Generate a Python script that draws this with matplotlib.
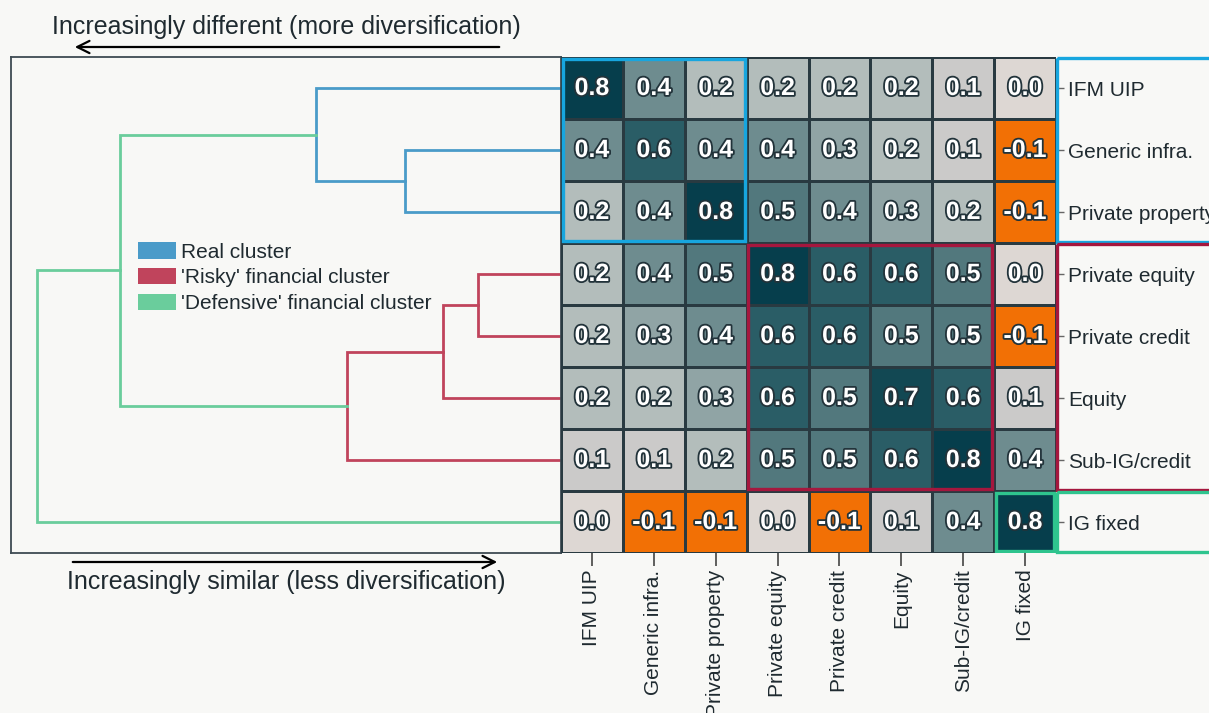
import numpy as np
import matplotlib
matplotlib.use("Agg")
import matplotlib.pyplot as plt
from matplotlib.colors import LinearSegmentedColormap, Normalize
from matplotlib.patches import Patch, Rectangle, FancyArrowPatch
import matplotlib.patheffects as pe

plt.rcParams['font.family'] = ['Liberation Sans', 'DejaVu Sans']

# --- config --- #
background_color = '#F8F8F6'
text_color = '#1F2A30'
frame_color = '#3E4B53'
real_color = '#4A9BC9'
risky_color = '#C0445C'
defensive_color = '#6ACD9C'
box_blue = '#17A6DF'
box_red = '#A5173E'
box_green = '#2FC48E'
# --- end config --- #

assets = ['IFM UIP', 'Generic infra.', 'Private property', 'Private equity',
          'Private credit', 'Equity', 'Sub-IG/credit', 'IG fixed']

corr = np.array([
    [0.8, 0.4, 0.2, 0.2, 0.2, 0.2, 0.1, 0.0],
    [0.4, 0.6, 0.4, 0.4, 0.3, 0.2, 0.1, -0.1],
    [0.2, 0.4, 0.8, 0.5, 0.4, 0.3, 0.2, -0.1],
    [0.2, 0.4, 0.5, 0.8, 0.6, 0.6, 0.5, 0.0],
    [0.2, 0.3, 0.4, 0.6, 0.6, 0.5, 0.5, -0.1],
    [0.2, 0.2, 0.3, 0.6, 0.5, 0.7, 0.6, 0.1],
    [0.1, 0.1, 0.2, 0.5, 0.5, 0.6, 0.8, 0.4],
    [0.0, -0.1, -0.1, 0.0, -0.1, 0.1, 0.4, 0.8],
])

# merges: (left node, right node, distance, colour); new nodes are numbered from 8
merge_left = [1, 0, 3, 10, 11, 9, 13]
merge_right = [2, 8, 4, 5, 6, 12, 7]
merge_dist = [0.284, 0.445, 0.151, 0.215, 0.389, 0.802, 0.953]
merge_color = [real_color, real_color, risky_color, risky_color, risky_color,
               defensive_color, defensive_color]

# colour scale, orange for negative through grey to dark teal
cmap = LinearSegmentedColormap.from_list('corr', [
    (0.0, '#F27005'),
    (0.1 / 0.9, '#DDD8D5'),
    (0.2 / 0.9, '#CBCAC9'),
    (0.3 / 0.9, '#B3BDBB'),
    (0.4 / 0.9, '#90A4A5'),
    (0.5 / 0.9, '#6E8C8F'),
    (0.6 / 0.9, '#52787D'),
    (0.7 / 0.9, '#2B5E66'),
    (0.8 / 0.9, '#124853'),
    (1.0, '#063E4C'),
])
norm = Normalize(vmin=-0.1, vmax=0.8)

W, H = 1209, 713
fig = plt.figure(figsize=(W / 100, H / 100), dpi=100, facecolor=background_color)

ax_d = fig.add_axes([11 / W, 1 - 553 / H, 550 / W, 496 / H])
ax_h = fig.add_axes([561 / W, 1 - 553 / H, 495 / W, 496 / H])
for a in (ax_d, ax_h):
    a.set_facecolor(background_color)

# --- heatmap --- #
n = len(assets)
ax_h.pcolormesh(np.arange(n + 1), np.arange(n + 1), corr, cmap=cmap, norm=norm,
                edgecolors='#293A41', linewidth=1.0)
ax_h.set_xlim(0, n)
ax_h.set_ylim(n, 0)
for i in range(n):
    for j in range(n):
        ax_h.text(j + 0.5, i + 0.5, f'{corr[i, j]:.1f}', ha='center', va='center',
                  fontsize=18, fontweight='bold', color='white',
                  path_effects=[pe.withStroke(linewidth=2.6, foreground='#22333A')])

ax_h.set_xticks(np.arange(n) + 0.5)
ax_h.set_xticklabels(assets, rotation=90, fontsize=15, color=text_color)
ax_h.yaxis.tick_right()
ax_h.set_yticks(np.arange(n) + 0.5)
ax_h.set_yticklabels(assets, fontsize=15, color=text_color)
ax_h.tick_params(axis='x', length=9, width=1.2, color='#444', pad=3)
ax_h.tick_params(axis='y', length=6, width=1, color='#666', pad=3)
for spine in ax_h.spines.values():
    spine.set_visible(False)

# cluster boxes inside the heatmap
for (x0, y0, w, h, c) in [(0, 0, 3, 3, box_blue), (3, 3, 4, 4, box_red),
                          (7, 7, 1, 1, box_green)]:
    ax_h.add_patch(Rectangle((x0 + 0.03, y0 + 0.03), w - 0.06, h - 0.06,
                             fill=False, edgecolor=c, lw=2.4, zorder=5))
# boxes around the row labels
for (y0, h, c) in [(0, 3, box_blue), (3, 4, box_red), (7, 1, box_green)]:
    ax_h.add_patch(Rectangle((n + 0.02, y0 + 0.02), 4, h - 0.04, fill=False,
                             edgecolor=c, lw=2.4, clip_on=False, zorder=5))

# --- dendrogram --- #
pos = {i: i + 0.5 for i in range(n)}
height = {i: 0.0 for i in range(n)}
for k, (l, r, d, c) in enumerate(zip(merge_left, merge_right, merge_dist, merge_color)):
    yl, yr = pos[l], pos[r]
    ax_d.plot([height[l], d, d, height[r]], [yl, yl, yr, yr], color=c, lw=2,
              solid_joinstyle='miter')
    pos[n + k] = (yl + yr) / 2
    height[n + k] = d
ax_d.set_xlim(1.0, 0)
ax_d.set_ylim(n, 0)
ax_d.set_xticks([])
ax_d.set_yticks([])
for spine in ax_d.spines.values():
    spine.set_color(frame_color)
    spine.set_linewidth(1.3)

ax_d.legend(
    handles=[Patch(facecolor=real_color, label='Real cluster'),
             Patch(facecolor=risky_color, label="'Risky' financial cluster"),
             Patch(facecolor=defensive_color, label="'Defensive' financial cluster")],
    loc='upper left', bbox_to_anchor=(138 / W, 1 - 242 / H),
    bbox_transform=fig.transFigure, frameon=False, fontsize=15,
    handlelength=1.8, handleheight=0.85, handletextpad=0.25,
    labelspacing=0.3, borderpad=0, borderaxespad=0, labelcolor=text_color)

# direction arrows
fig.text(286 / W, 1 - 27 / H, 'Increasingly different (more diversification)',
         ha='center', va='center', fontsize=18, color=text_color)
fig.add_artist(FancyArrowPatch(
    (502 / W, 1 - 47 / H), (72 / W, 1 - 47 / H), transform=fig.transFigure,
    arrowstyle='->', mutation_scale=22, color='black', lw=1.6))
fig.text(67 / W, 1 - 582 / H, 'Increasingly similar (less diversification)',
         ha='left', va='center', fontsize=18, color=text_color)
fig.add_artist(FancyArrowPatch(
    (70 / W, 1 - 562 / H), (500 / W, 1 - 562 / H), transform=fig.transFigure,
    arrowstyle='->', mutation_scale=22, color='black', lw=1.6))

plt.savefig('out.png', dpi=100, facecolor=background_color)
